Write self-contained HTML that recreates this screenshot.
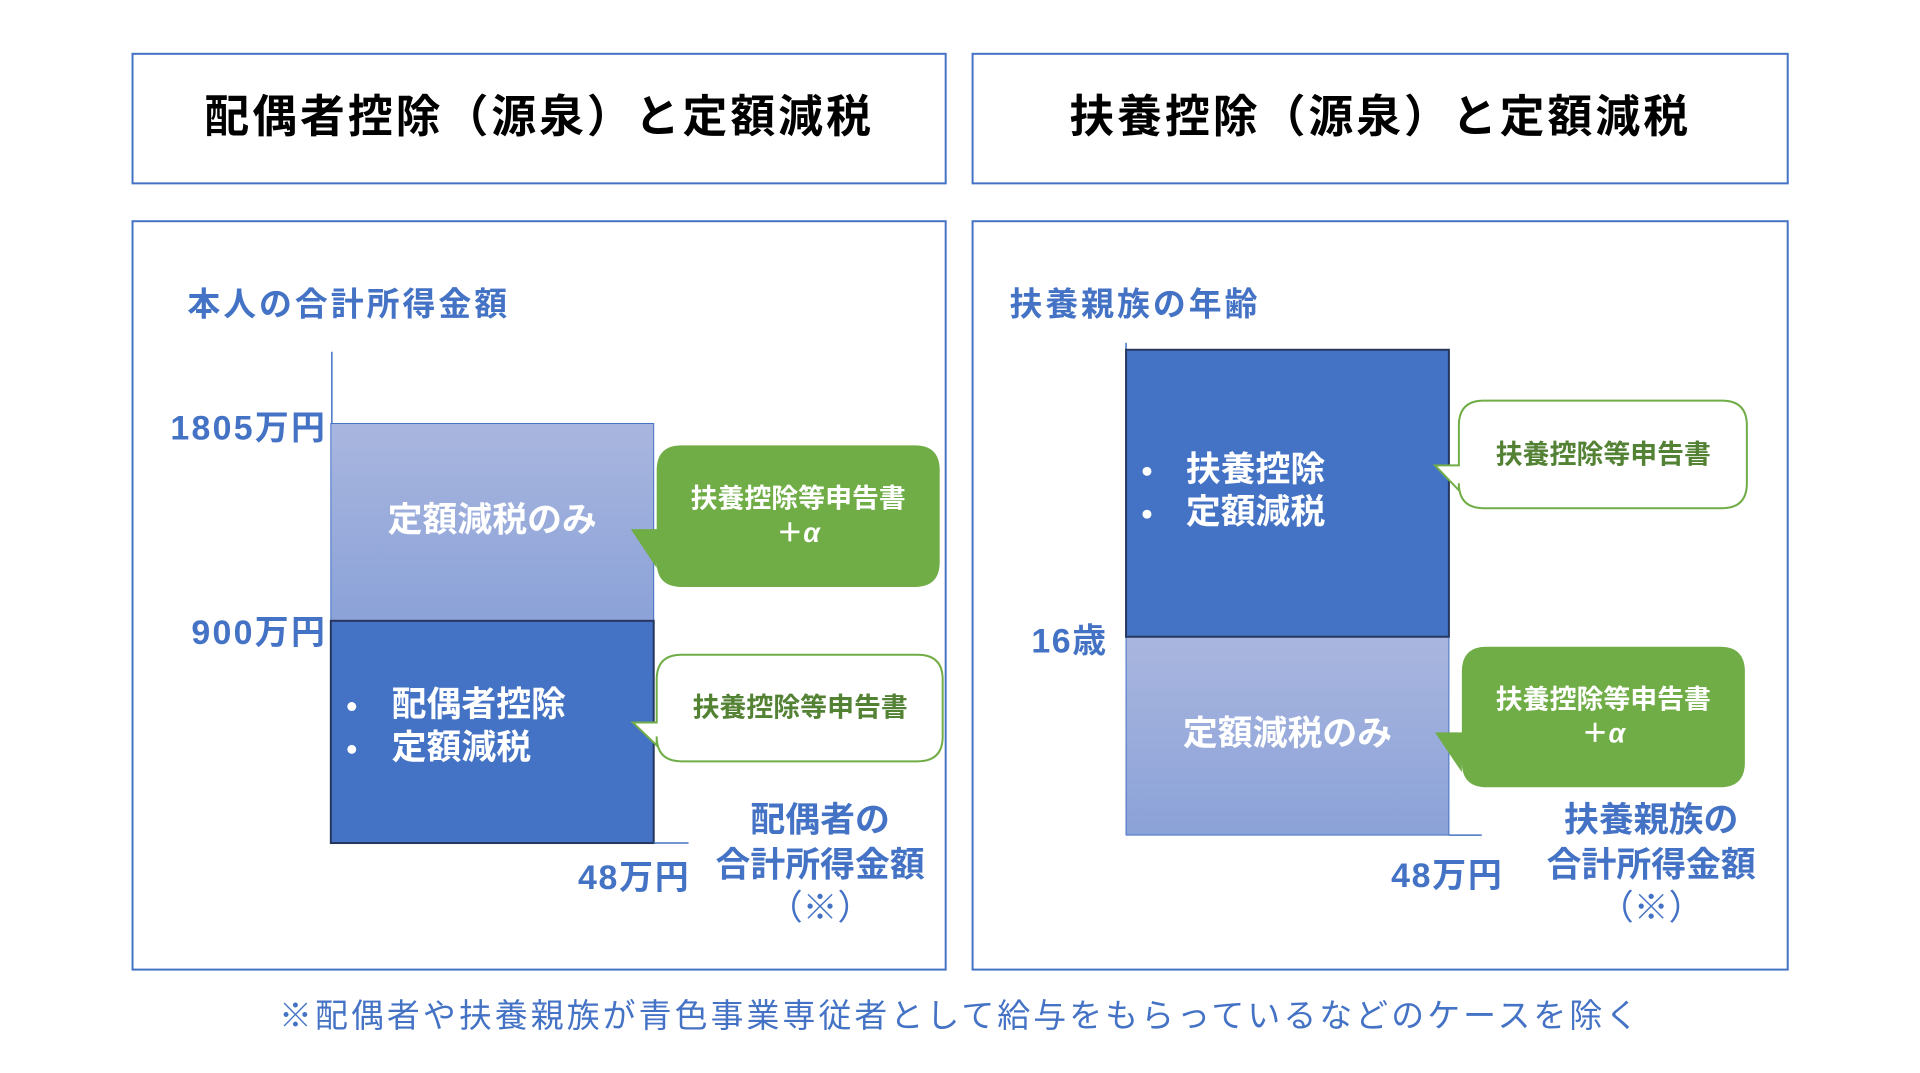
<!DOCTYPE html>
<html><head><meta charset="utf-8"><style>
html,body{margin:0;padding:0;background:#fff;}
svg{display:block;}
text{font-family:"Liberation Sans","Noto Sans CJK JP",sans-serif;}
</style></head><body>
<svg width="1920" height="1073" viewBox="0 0 1920 1073" xmlns="http://www.w3.org/2000/svg">
<defs>
<linearGradient id="lg" x1="0" y1="0" x2="0" y2="1">
<stop offset="0" stop-color="#A9B6DF"/><stop offset="1" stop-color="#8BA2D8"/>
</linearGradient>
</defs>
<g transform="scale(0.9965)">
<g fill="none" stroke="#4472C4" stroke-width="2">
<rect x="133" y="54" width="816" height="130"/>
<rect x="976" y="54" width="818" height="130"/>
<rect x="133" y="222" width="816" height="751"/>
<rect x="976" y="222" width="818" height="751"/>
</g>
<g font-weight="bold" font-size="45" fill="#000" text-anchor="middle" dominant-baseline="central" letter-spacing="3">
<text x="541" y="117">配偶者控除（源泉）と定額減税</text>
<text x="1385" y="117">扶養控除（源泉）と定額減税</text>
</g>
<g font-weight="bold" fill="#4472C4" dominant-baseline="central">
<text x="188" y="305" font-size="33" letter-spacing="3">本人の合計所得金額</text>
<text x="1013" y="305" font-size="33" letter-spacing="3">扶養親族の年齢</text>
<text x="326" y="430" font-size="34" text-anchor="end" textLength="155">1805万円</text>
<text x="326" y="635" font-size="34" text-anchor="end" textLength="134">900万円</text>
<text x="1110" y="644" font-size="34" text-anchor="end" textLength="75">16歳</text>
<text x="691" y="881" font-size="34" text-anchor="end" textLength="111">48万円</text>
<text x="1507" y="879" font-size="34" text-anchor="end" textLength="111">48万円</text>
<g font-size="35" text-anchor="middle">
<text x="823" y="823">配偶者の</text>
<text x="823" y="868">合計所得金額</text>
<text x="823" y="911" font-weight="normal">（※）</text>
<text x="1657" y="823">扶養親族の</text>
<text x="1657" y="868">合計所得金額</text>
<text x="1657" y="911" font-weight="normal">（※）</text>
</g>
</g>
<line x1="333" y1="353" x2="333" y2="425" stroke="#4472C4" stroke-width="1.5"/>
<rect x="332" y="425" width="324" height="198" fill="url(#lg)" stroke="#4472C4" stroke-width="1"/>
<rect x="332" y="623" width="324" height="223" fill="#4472C4" stroke="#26365e" stroke-width="2"/>
<line x1="656" y1="846" x2="691" y2="846" stroke="#4472C4" stroke-width="1.5"/>
<line x1="1130" y1="344" x2="1130" y2="351" stroke="#4472C4" stroke-width="1.5"/>
<rect x="1130" y="639" width="324" height="199" fill="url(#lg)" stroke="#4472C4" stroke-width="1"/>
<rect x="1130" y="351" width="324" height="288" fill="#4472C4" stroke="#26365e" stroke-width="2"/>
<line x1="1454" y1="838" x2="1487" y2="838" stroke="#4472C4" stroke-width="1.5"/>
<path d="M684,447 H918 Q943,447 943,472 V564 Q943,589 918,589 H684 Q659,589 659,564 V570 L633,531 H659 V472 Q659,447 684,447 Z" fill="#70AD47"/>
<path d="M684,657 H921 Q946,657 946,682 V739 Q946,764 921,764 H684 Q659,764 659,739 V748 L635,725 H659 V682 Q659,657 684,657 Z" fill="#fff" stroke="#70AD47" stroke-width="2"/>
<path d="M1489,402 H1728 Q1753,402 1753,427 V485 Q1753,510 1728,510 H1489 Q1464,510 1464,485 V492 L1440,467 H1464 V427 Q1464,402 1489,402 Z" fill="#fff" stroke="#70AD47" stroke-width="2"/>
<path d="M1492,649 H1726 Q1751,649 1751,674 V765 Q1751,790 1726,790 H1492 Q1467,790 1467,765 V775 L1440,735 H1467 V674 Q1467,649 1492,649 Z" fill="#70AD47"/>
<g font-weight="bold" font-size="27" text-anchor="middle" dominant-baseline="central">
<text x="801" y="500" fill="#fff">扶養控除等申告書</text>
<text x="801" y="535" fill="#fff">＋<tspan font-style="italic">α</tspan></text>
<text x="803" y="710" fill="#548235">扶養控除等申告書</text>
<text x="1609" y="456" fill="#548235">扶養控除等申告書</text>
<text x="1609" y="702" fill="#fff">扶養控除等申告書</text>
<text x="1609" y="736" fill="#fff">＋<tspan font-style="italic">α</tspan></text>
</g>
<g font-weight="bold" font-size="35" fill="#fff" dominant-baseline="central">
<text x="494" y="522" text-anchor="middle">定額減税のみ</text>
<text x="1292" y="736" text-anchor="middle">定額減税のみ</text>
<text x="393" y="707">配偶者控除</text>
<text x="393" y="750">定額減税</text>
<text x="1190" y="471">扶養控除</text>
<text x="1190" y="514">定額減税</text>
</g>
<g fill="#fff">
<circle cx="353" cy="709" r="4.5"/><circle cx="353" cy="752" r="4.5"/>
<circle cx="1151" cy="473" r="4.5"/><circle cx="1151" cy="516" r="4.5"/>
</g>
<text x="280" y="1019" font-size="33" fill="#4472C4" dominant-baseline="central" letter-spacing="3" textLength="1367">※配偶者や扶養親族が青色事業専従者として給与をもらっているなどのケースを除く</text>
</g>
</svg>
</body></html>
